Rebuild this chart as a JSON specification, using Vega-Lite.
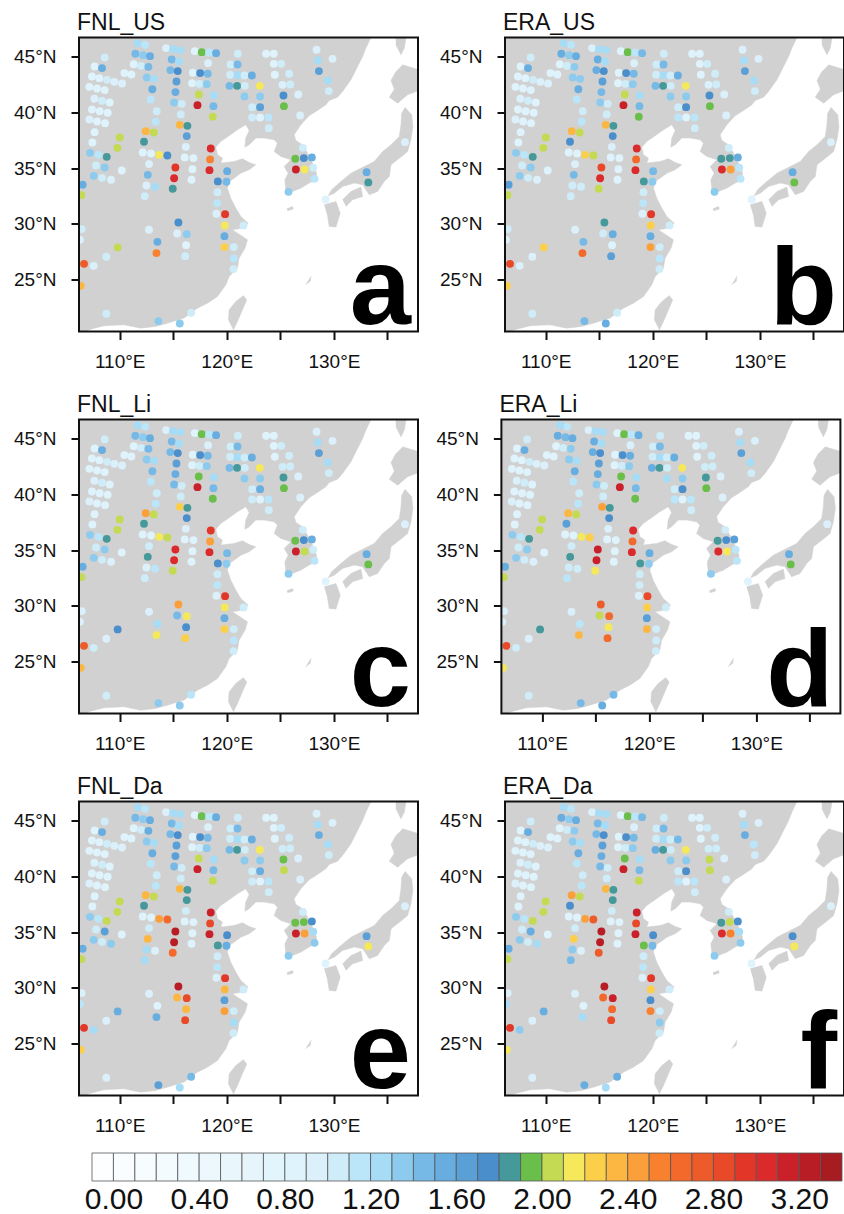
{"$schema":"https://vega.github.io/schema/vega-lite/v6.json","autosize":{"type":"pad"},"padding":{"left":13,"top":11.5,"right":0,"bottom":0},"background":"white","spacing":16.5,
"config":{"font":"Liberation Sans","view":{"stroke":null},"axis":{"grid":false,"domain":false,"title":null,"labelFont":"Liberation Sans","labelFontSize":19,"labelColor":"#111","tickColor":"#111","tickSize":8,"tickWidth":2},"axisX":{"labelPadding":13,"labelAngle":0},"axisY":{"labelPadding":15},"title":{"font":"Liberation Sans","fontSize":23,"fontWeight":"normal","anchor":"start","frame":"group","offset":2,"dx":-2,"color":"#111"}},
"datasets":{
"land":[{"p":1,"i":0,"lon":105,"lat":48},{"p":1,"i":1,"lon":133.8,"lat":48},{"p":1,"i":2,"lon":133.46,"lat":46.7},{"p":1,"i":3,"lon":132.99,"lat":45.75},{"p":1,"i":4,"lon":132.68,"lat":45},{"p":1,"i":5,"lon":132.21,"lat":44.1},{"p":1,"i":6,"lon":131.59,"lat":42.91},{"p":1,"i":7,"lon":130.81,"lat":41.87},{"p":1,"i":8,"lon":130.34,"lat":41.36},{"p":1,"i":9,"lon":129.56,"lat":41.06},{"p":1,"i":10,"lon":129.25,"lat":40.67},{"p":1,"i":11,"lon":128.32,"lat":40.07},{"p":1,"i":12,"lon":127.69,"lat":39.69},{"p":1,"i":13,"lon":126.91,"lat":38.88},{"p":1,"i":14,"lon":126.29,"lat":37.99},{"p":1,"i":15,"lon":126.45,"lat":37.48},{"p":1,"i":16,"lon":127.07,"lat":37.09},{"p":1,"i":17,"lon":127.54,"lat":36.34},{"p":1,"i":18,"lon":128,"lat":35.45},{"p":1,"i":19,"lon":128.38,"lat":34.55},{"p":1,"i":20,"lon":128.32,"lat":33.96},{"p":1,"i":21,"lon":127.69,"lat":33.66},{"p":1,"i":22,"lon":126.91,"lat":33.21},{"p":1,"i":23,"lon":126.13,"lat":32.91},{"p":1,"i":24,"lon":125.51,"lat":33.06},{"p":1,"i":25,"lon":125.42,"lat":33.96},{"p":1,"i":26,"lon":125.73,"lat":34.55},{"p":1,"i":27,"lon":125.36,"lat":35.15},{"p":1,"i":28,"lon":125.98,"lat":35.75},{"p":1,"i":29,"lon":125.05,"lat":36.04},{"p":1,"i":30,"lon":124.42,"lat":36.49},{"p":1,"i":31,"lon":124.73,"lat":37.24},{"p":1,"i":32,"lon":124.42,"lat":37.54},{"p":1,"i":33,"lon":123.49,"lat":37.69},{"p":1,"i":34,"lon":122.71,"lat":37.69},{"p":1,"i":35,"lon":122.09,"lat":37.09},{"p":1,"i":36,"lon":121.68,"lat":36.88},{"p":1,"i":37,"lon":121.77,"lat":37.69},{"p":1,"i":38,"lon":122.09,"lat":38.37},{"p":1,"i":39,"lon":121.77,"lat":38.88},{"p":1,"i":40,"lon":120.99,"lat":38.43},{"p":1,"i":41,"lon":120.22,"lat":37.9},{"p":1,"i":42,"lon":119.44,"lat":37.39},{"p":1,"i":43,"lon":118.97,"lat":36.88},{"p":1,"i":44,"lon":119.13,"lat":36.19},{"p":1,"i":45,"lon":119.59,"lat":35.9},{"p":1,"i":46,"lon":119.44,"lat":35.45},{"p":1,"i":47,"lon":120.68,"lat":35.6},{"p":1,"i":48,"lon":121.46,"lat":35.84},{"p":1,"i":49,"lon":122.09,"lat":35.51},{"p":1,"i":50,"lon":122.71,"lat":35.3},{"p":1,"i":51,"lon":122.09,"lat":34.85},{"p":1,"i":52,"lon":121.31,"lat":34.55},{"p":1,"i":53,"lon":120.68,"lat":34.1},{"p":1,"i":54,"lon":120.22,"lat":33.81},{"p":1,"i":55,"lon":120.06,"lat":33.21},{"p":1,"i":56,"lon":120.37,"lat":32.31},{"p":1,"i":57,"lon":120.84,"lat":31.42},{"p":1,"i":58,"lon":121.31,"lat":30.67},{"p":1,"i":59,"lon":122,"lat":30.07},{"p":1,"i":60,"lon":121.46,"lat":29.63},{"p":1,"i":61,"lon":120.53,"lat":29.48},{"p":1,"i":62,"lon":121,"lat":29.18},{"p":1,"i":63,"lon":121.93,"lat":28.58},{"p":1,"i":64,"lon":121.71,"lat":27.84},{"p":1,"i":65,"lon":121.15,"lat":26.94},{"p":1,"i":66,"lon":120.99,"lat":26.04},{"p":1,"i":67,"lon":120.22,"lat":25.3},{"p":1,"i":68,"lon":119.91,"lat":24.55},{"p":1,"i":69,"lon":119.13,"lat":23.51},{"p":1,"i":70,"lon":118.19,"lat":22.91},{"p":1,"i":71,"lon":117.26,"lat":22.46},{"p":1,"i":72,"lon":116.01,"lat":21.57},{"p":1,"i":73,"lon":114.45,"lat":21.12},{"p":1,"i":74,"lon":113.36,"lat":20.82},{"p":1,"i":75,"lon":111.96,"lat":20.67},{"p":1,"i":76,"lon":110.4,"lat":20.97},{"p":1,"i":77,"lon":108.54,"lat":20.88},{"p":1,"i":78,"lon":107.29,"lat":20.58},{"p":1,"i":79,"lon":106.67,"lat":20.37},{"p":1,"i":80,"lon":106.3,"lat":20},{"p":1,"i":81,"lon":105,"lat":20},
{"p":2,"i":0,"lon":121.56,"lat":23.6},{"p":2,"i":1,"lon":120.84,"lat":23.06},{"p":2,"i":2,"lon":120.22,"lat":22.31},{"p":2,"i":3,"lon":120.15,"lat":21.42},{"p":2,"i":4,"lon":120.62,"lat":20.52},{"p":2,"i":5,"lon":121,"lat":21.27},{"p":2,"i":6,"lon":121.46,"lat":22.31},{"p":2,"i":7,"lon":121.87,"lat":23.21},
{"p":3,"i":0,"lon":136.63,"lat":40.46},{"p":3,"i":1,"lon":137.26,"lat":39.78},{"p":3,"i":2,"lon":137.38,"lat":38.73},{"p":3,"i":3,"lon":137.19,"lat":37.54},{"p":3,"i":4,"lon":136.88,"lat":36.49},{"p":3,"i":5,"lon":136.32,"lat":36.04},{"p":3,"i":6,"lon":135.33,"lat":35.3},{"p":3,"i":7,"lon":135.17,"lat":34.25},{"p":3,"i":8,"lon":134.7,"lat":33.81},{"p":3,"i":9,"lon":134.08,"lat":32.91},{"p":3,"i":10,"lon":133.3,"lat":32.61},{"p":3,"i":11,"lon":132.68,"lat":33.51},{"p":3,"i":12,"lon":131.9,"lat":33.66},{"p":3,"i":13,"lon":130.81,"lat":33.36},{"p":3,"i":14,"lon":130.03,"lat":32.76},{"p":3,"i":15,"lon":129.47,"lat":32.52},{"p":3,"i":16,"lon":129.78,"lat":33.06},{"p":3,"i":17,"lon":130.65,"lat":33.81},{"p":3,"i":18,"lon":131.59,"lat":34.55},{"p":3,"i":19,"lon":132.83,"lat":35.15},{"p":3,"i":20,"lon":133.77,"lat":35.6},{"p":3,"i":21,"lon":134.55,"lat":36.49},{"p":3,"i":22,"lon":135.33,"lat":37.09},{"p":3,"i":23,"lon":136.1,"lat":37.84},{"p":3,"i":24,"lon":136.26,"lat":38.88},{"p":3,"i":25,"lon":136.32,"lat":39.93},
{"p":4,"i":0,"lon":130.81,"lat":32.16},{"p":4,"i":1,"lon":131.59,"lat":32.91},{"p":4,"i":2,"lon":132.52,"lat":33.3},{"p":4,"i":3,"lon":132.68,"lat":32.46},{"p":4,"i":4,"lon":131.74,"lat":32.16},{"p":4,"i":5,"lon":131.12,"lat":31.57},
{"p":5,"i":0,"lon":129.09,"lat":31.72},{"p":5,"i":1,"lon":130.19,"lat":32.01},{"p":5,"i":2,"lon":130.59,"lat":30.97},{"p":5,"i":3,"lon":130.19,"lat":29.72},{"p":5,"i":4,"lon":129.56,"lat":29.78},{"p":5,"i":5,"lon":129.41,"lat":30.67},
{"p":6,"i":0,"lon":136.41,"lat":44.25},{"p":6,"i":1,"lon":138.5,"lat":43.66},{"p":6,"i":2,"lon":138.5,"lat":42.16},{"p":6,"i":3,"lon":136.88,"lat":41.57},{"p":6,"i":4,"lon":135.95,"lat":40.82},{"p":6,"i":5,"lon":135.17,"lat":41.36},{"p":6,"i":6,"lon":135.64,"lat":42.07},{"p":6,"i":7,"lon":135.33,"lat":42.85},{"p":6,"i":8,"lon":135.79,"lat":43.66},
{"p":7,"i":0,"lon":135.73,"lat":47.5},{"p":7,"i":1,"lon":136.88,"lat":47.5},{"p":7,"i":2,"lon":136.57,"lat":45.75},{"p":7,"i":3,"lon":136.26,"lat":45.15},{"p":7,"i":4,"lon":135.79,"lat":46.04},
{"p":8,"i":0,"lon":125.61,"lat":31.36},{"p":8,"i":1,"lon":126.14,"lat":31.57},{"p":8,"i":2,"lon":126.2,"lat":31.33},{"p":8,"i":3,"lon":125.67,"lat":31.18},
{"p":9,"i":0,"lon":127.38,"lat":24.55},{"p":9,"i":1,"lon":127.85,"lat":25.3},{"p":9,"i":2,"lon":127.79,"lat":24.85}],
"st":[
{"lon":111.68,"lat":46.19,"a":1.25,"b":1.25,"c":1.25,"d":1.25,"e":1.25,"f":1.25},
{"lon":112.37,"lat":46.04,"a":1.15,"b":1.15,"c":1.15,"d":1.15,"e":1.15,"f":1.15},
{"lon":111.46,"lat":45.24,"a":1.45,"b":1.55,"c":1.45,"d":1.55,"e":1.45,"f":1.55},
{"lon":112.18,"lat":45.12,"a":1.35,"b":1.35,"c":1.35,"d":1.45,"e":1.35,"f":1.35},
{"lon":112.83,"lat":45.03,"a":1.55,"b":1.55,"c":1.55,"d":1.55,"e":1.55,"f":1.55},
{"lon":114.33,"lat":45.75,"a":0.9,"b":0.9,"c":0.9,"d":0.9,"e":0.9,"f":0.9},
{"lon":114.98,"lat":45.66,"a":1.25,"b":1.25,"c":1.25,"d":1.25,"e":1.25,"f":1.25},
{"lon":115.67,"lat":45.57,"a":1.2,"b":1.2,"c":1.2,"d":1.2,"e":1.2,"f":1.2},
{"lon":117.01,"lat":45.48,"a":0.8,"b":0.8,"c":0.8,"d":0.8,"e":0.8,"f":0.8},
{"lon":117.66,"lat":45.39,"a":1.95,"b":1.95,"c":1.95,"d":1.95,"e":1.95,"f":1.95},
{"lon":118.35,"lat":45.36,"a":1.15,"b":1.15,"c":1.15,"d":1.15,"e":1.15,"f":1.15},
{"lon":119,"lat":45.3,"a":1.55,"b":1.45,"c":1.5,"d":1.55,"e":1.5,"f":1.4},
{"lon":121.03,"lat":45.24,"a":1.05,"b":1.05,"c":1.05,"d":1.05,"e":1.05,"f":1.05},
{"lon":123.67,"lat":45.24,"a":0.8,"b":0.8,"c":0.8,"d":0.8,"e":0.8,"f":0.8},
{"lon":124.39,"lat":45.24,"a":0.8,"b":0.8,"c":0.8,"d":0.8,"e":0.8,"f":0.8},
{"lon":128.38,"lat":45.6,"a":0.9,"b":0.9,"c":0.9,"d":0.9,"e":0.9,"f":0.9},
{"lon":108.6,"lat":44.91,"a":1.05,"b":1.05,"c":1.05,"d":1.05,"e":1.05,"f":1.05},
{"lon":128.5,"lat":44.64,"a":1.25,"b":1.25,"c":1.25,"d":1.25,"e":1.25,"f":1.25},
{"lon":129.87,"lat":44.79,"a":0.9,"b":0.9,"c":0.9,"d":0.9,"e":0.9,"f":0.9},
{"lon":114.86,"lat":44.73,"a":1.45,"b":1.5,"c":1.4,"d":1.5,"e":1.45,"f":1.45},
{"lon":115.54,"lat":44.55,"a":1.25,"b":1.2,"c":1.2,"d":1.2,"e":1.2,"f":1.2},
{"lon":118.25,"lat":44.4,"a":0.9,"b":0.9,"c":0.9,"d":0.9,"e":0.9,"f":0.9},
{"lon":120.34,"lat":44.28,"a":1.05,"b":1.05,"c":1.05,"d":1.05,"e":1.05,"f":1.05},
{"lon":121,"lat":44.28,"a":1.45,"b":1.45,"c":1.45,"d":1.45,"e":1.45,"f":1.45},
{"lon":124.39,"lat":44.34,"a":0.8,"b":0.8,"c":0.8,"d":0.8,"e":0.8,"f":0.8},
{"lon":125.08,"lat":44.34,"a":1,"b":1,"c":1,"d":1,"e":1,"f":1},
{"lon":107.66,"lat":44.1,"a":0.8,"b":0.8,"c":0.8,"d":0.8,"e":0.8,"f":0.8},
{"lon":108.35,"lat":43.96,"a":1.55,"b":1.55,"c":1.55,"d":1.55,"e":1.55,"f":1.55},
{"lon":111.31,"lat":44.31,"a":0.8,"b":0.8,"c":0.8,"d":0.8,"e":0.8,"f":0.8},
{"lon":111.99,"lat":44.16,"a":1,"b":1,"c":1,"d":1,"e":1,"f":1},
{"lon":112.68,"lat":44.07,"a":1.45,"b":1.35,"c":1.45,"d":1.35,"e":1.55,"f":1.35},
{"lon":114.73,"lat":43.78,"a":1.45,"b":1.5,"c":1.45,"d":1.5,"e":1.45,"f":1.45},
{"lon":115.42,"lat":43.69,"a":1.75,"b":1.75,"c":1.75,"d":1.75,"e":1.75,"f":1.7},
{"lon":116.82,"lat":43.54,"a":0.8,"b":0.8,"c":0.8,"d":0.8,"e":0.8,"f":0.8},
{"lon":117.51,"lat":43.51,"a":1.75,"b":1.75,"c":1.75,"d":1.75,"e":1.75,"f":1.75},
{"lon":118.22,"lat":43.45,"a":1.45,"b":1.45,"c":1.45,"d":1.5,"e":1.45,"f":1.45},
{"lon":128.6,"lat":43.69,"a":1.65,"b":1.65,"c":1.65,"d":1.65,"e":1.5,"f":1.5},
{"lon":110.44,"lat":43.51,"a":0.8,"b":0.8,"c":0.8,"d":0.8,"e":0.8,"f":0.8},
{"lon":111.09,"lat":43.39,"a":0.8,"b":0.8,"c":0.8,"d":0.8,"e":0.8,"f":0.8},
{"lon":120.31,"lat":43.36,"a":1.05,"b":1.05,"c":1.05,"d":1.05,"e":1.05,"f":1.05},
{"lon":121,"lat":43.33,"a":1.25,"b":1.25,"c":1.25,"d":1.25,"e":1.25,"f":1.25},
{"lon":121.65,"lat":43.3,"a":1,"b":1,"c":1,"d":1,"e":1,"f":1},
{"lon":122.34,"lat":43.3,"a":1.55,"b":1.5,"c":1.55,"d":1.55,"e":1.55,"f":1.45},
{"lon":124.48,"lat":43.36,"a":0.8,"b":0.8,"c":0.8,"d":0.8,"e":0.8,"f":0.8},
{"lon":125.82,"lat":43.45,"a":1.05,"b":1.05,"c":1.05,"d":1.05,"e":1.05,"f":1.05},
{"lon":107.41,"lat":43.21,"a":0.8,"b":0.8,"c":0.8,"d":0.8,"e":0.8,"f":0.8},
{"lon":108.1,"lat":43.06,"a":0.8,"b":0.8,"c":0.8,"d":0.8,"e":0.8,"f":0.8},
{"lon":108.82,"lat":42.91,"a":1.05,"b":1.05,"c":1.05,"d":1.05,"e":1.05,"f":1.05},
{"lon":109.5,"lat":42.73,"a":0.9,"b":0.9,"c":0.9,"d":0.9,"e":0.9,"f":0.9},
{"lon":110.22,"lat":42.58,"a":0.9,"b":0.9,"c":0.9,"d":0.9,"e":0.9,"f":0.9},
{"lon":112.52,"lat":43.12,"a":1.35,"b":1.35,"c":1.35,"d":1.35,"e":1.35,"f":1.35},
{"lon":113.21,"lat":43,"a":1.25,"b":1.35,"c":1.25,"d":1.25,"e":1.25,"f":1.25},
{"lon":115.3,"lat":42.76,"a":1.65,"b":1.65,"c":1.6,"d":1.65,"e":1.6,"f":1.6},
{"lon":116.76,"lat":42.61,"a":0.8,"b":0.8,"c":0.8,"d":0.8,"e":0.8,"f":0.8},
{"lon":117.44,"lat":42.55,"a":1.05,"b":1.05,"c":1.05,"d":1.05,"e":1.05,"f":1.05},
{"lon":118.13,"lat":42.52,"a":1.35,"b":1.35,"c":1.35,"d":1.35,"e":1.35,"f":1.35},
{"lon":120.25,"lat":42.37,"a":1.45,"b":1.45,"c":1.45,"d":1.55,"e":1.45,"f":1.55},
{"lon":120.96,"lat":42.37,"a":1.85,"b":1.85,"c":1.85,"d":1.85,"e":1.85,"f":1.85},
{"lon":121.68,"lat":42.37,"a":1.05,"b":1.05,"c":1.05,"d":1.05,"e":1.05,"f":1.05},
{"lon":123.08,"lat":42.37,"a":2.15,"b":2.15,"c":2.15,"d":2.15,"e":2.15,"f":2.15},
{"lon":125.2,"lat":42.46,"a":0.9,"b":0.9,"c":1.05,"d":1.05,"e":1.05,"f":1.05},
{"lon":125.92,"lat":42.49,"a":1.05,"b":1.05,"c":1.05,"d":1.05,"e":1.05,"f":1.05},
{"lon":129.44,"lat":42.85,"a":1.25,"b":1.25,"c":1.25,"d":1.25,"e":1.25,"f":1.15},
{"lon":107.17,"lat":42.28,"a":0.8,"b":0.8,"c":0.8,"d":0.8,"e":0.8,"f":0.8},
{"lon":107.88,"lat":42.13,"a":0.8,"b":0.8,"c":0.8,"d":0.8,"e":0.8,"f":0.8},
{"lon":108.6,"lat":41.99,"a":0.8,"b":0.8,"c":0.8,"d":0.8,"e":0.8,"f":0.8},
{"lon":113.05,"lat":42.07,"a":1.55,"b":1.55,"c":1.45,"d":1.55,"e":1.55,"f":1.5},
{"lon":115.2,"lat":41.81,"a":1.55,"b":1.45,"c":1.55,"d":1.55,"e":1.6,"f":1.55},
{"lon":117.38,"lat":41.6,"a":2.05,"b":2.05,"c":1.95,"d":1.95,"e":2.05,"f":1.95},
{"lon":118.78,"lat":41.51,"a":1.25,"b":1.25,"c":1.25,"d":1.25,"e":1.25,"f":1.25},
{"lon":121.65,"lat":41.42,"a":1.35,"b":1.35,"c":1.35,"d":1.25,"e":1.35,"f":1.35},
{"lon":123.11,"lat":41.42,"a":1.35,"b":1.35,"c":1.35,"d":1.35,"e":1.35,"f":1.35},
{"lon":125.29,"lat":41.51,"a":1.75,"b":1.7,"c":1.85,"d":1.85,"e":1.95,"f":2.05},
{"lon":126.67,"lat":41.6,"a":0.9,"b":0.9,"c":0.9,"d":0.9,"e":0.9,"f":0.9},
{"lon":129.53,"lat":41.9,"a":1.05,"b":1.05,"c":1.05,"d":1.05,"e":1.05,"f":1.05},
{"lon":107.63,"lat":41.21,"a":0.9,"b":0.9,"c":0.9,"d":0.9,"e":0.9,"f":0.9},
{"lon":108.35,"lat":41.03,"a":1.05,"b":1.05,"c":1.05,"d":1.05,"e":1.05,"f":1.05},
{"lon":109.07,"lat":40.88,"a":0.8,"b":0.8,"c":0.8,"d":0.8,"e":0.8,"f":0.8},
{"lon":112.9,"lat":41.15,"a":1.15,"b":1.15,"c":1.15,"d":1.15,"e":1.15,"f":1.15},
{"lon":115.08,"lat":40.88,"a":1.35,"b":1.35,"c":1.45,"d":1.35,"e":1.45,"f":1.45},
{"lon":115.79,"lat":40.76,"a":1.05,"b":1.05,"c":1.05,"d":1.05,"e":1.05,"f":1.05},
{"lon":117.26,"lat":40.64,"a":3.15,"b":3.15,"c":3.15,"d":3.15,"e":3.1,"f":3.1},
{"lon":118.75,"lat":40.55,"a":1.45,"b":1.45,"c":1.45,"d":1.45,"e":1.45,"f":1.45},
{"lon":122.37,"lat":40.46,"a":1.05,"b":1.05,"c":1.05,"d":1.05,"e":1.05,"f":1.05},
{"lon":123.11,"lat":40.46,"a":1.65,"b":1.75,"c":1.55,"d":1.7,"e":1.55,"f":1.7},
{"lon":125.33,"lat":40.55,"a":1.95,"b":1.95,"c":1.95,"d":1.95,"e":2.05,"f":2.05},
{"lon":107.41,"lat":40.25,"a":0.8,"b":0.8,"c":0.8,"d":0.8,"e":0.8,"f":0.8},
{"lon":108.13,"lat":40.1,"a":0.8,"b":0.8,"c":0.8,"d":0.8,"e":0.8,"f":0.8},
{"lon":108.88,"lat":39.96,"a":0.8,"b":0.8,"c":0.8,"d":0.8,"e":0.8,"f":0.8},
{"lon":113.46,"lat":40.1,"a":1.05,"b":1.05,"c":1.05,"d":1.05,"e":1.05,"f":1.05},
{"lon":115.7,"lat":39.81,"a":1.05,"b":1.05,"c":1.05,"d":1.05,"e":1.05,"f":1.05},
{"lon":118.69,"lat":39.6,"a":2.05,"b":1.95,"c":1.95,"d":1.95,"e":2.05,"f":2.05},
{"lon":122.37,"lat":39.54,"a":1.05,"b":1.15,"c":1.05,"d":1.15,"e":1.05,"f":1.15},
{"lon":123.11,"lat":39.54,"a":0.8,"b":0.8,"c":0.8,"d":0.8,"e":0.8,"f":0.8},
{"lon":123.89,"lat":39.54,"a":1.15,"b":1.15,"c":1.15,"d":1.15,"e":1.15,"f":1.15},
{"lon":126.85,"lat":39.72,"a":0.9,"b":0.9,"c":0.9,"d":0.9,"e":0.9,"f":0.9},
{"lon":107.17,"lat":39.36,"a":0.9,"b":0.9,"c":0.9,"d":0.9,"e":0.9,"f":0.9},
{"lon":107.88,"lat":39.18,"a":0.8,"b":0.8,"c":0.8,"d":0.8,"e":0.8,"f":0.8},
{"lon":108.63,"lat":39.03,"a":0.8,"b":0.8,"c":0.8,"d":0.8,"e":0.8,"f":0.8},
{"lon":113.36,"lat":39.15,"a":1.15,"b":1.15,"c":1.15,"d":1.15,"e":1.15,"f":1.15},
{"lon":115.61,"lat":38.88,"a":2.35,"b":2.35,"c":2.25,"d":2.4,"e":2.35,"f":2.3},
{"lon":116.32,"lat":38.79,"a":1.85,"b":1.85,"c":1.85,"d":1.85,"e":1.85,"f":1.85},
{"lon":112.43,"lat":38.31,"a":2.35,"b":2.35,"c":2.4,"d":2.35,"e":2.35,"f":2.4},
{"lon":113.18,"lat":38.19,"a":2.05,"b":2.05,"c":2.05,"d":2.05,"e":2.05,"f":2.05},
{"lon":123.92,"lat":38.58,"a":1.05,"b":1.05,"c":1.05,"d":1.05,"e":1.05,"f":1.05},
{"lon":107.66,"lat":38.22,"a":0.8,"b":0.8,"c":0.8,"d":0.8,"e":0.8,"f":0.8},
{"lon":110,"lat":37.75,"a":2.05,"b":2.05,"c":2.05,"d":2.05,"e":2.05,"f":2.05},
{"lon":116.26,"lat":37.87,"a":1.65,"b":1.75,"c":1.7,"d":1.75,"e":1.85,"f":1.85},
{"lon":107.45,"lat":37.3,"a":0.8,"b":0.8,"c":0.8,"d":0.8,"e":0.8,"f":0.8},
{"lon":109.78,"lat":36.82,"a":2.05,"b":2.05,"c":2.05,"d":2.05,"e":2.05,"f":2.05},
{"lon":112.27,"lat":37.36,"a":1.85,"b":1.7,"c":1.85,"d":1.65,"e":1.85,"f":1.75},
{"lon":116.17,"lat":36.91,"a":0.95,"b":0.95,"c":0.95,"d":0.95,"e":1.05,"f":1.05},
{"lon":118.5,"lat":36.76,"a":3.05,"b":3,"c":2.95,"d":3,"e":3.15,"f":3.15},
{"lon":127.1,"lat":36.82,"a":1.05,"b":1.05,"c":1.05,"d":1.05,"e":1.05,"f":1.05},
{"lon":136.63,"lat":37.33,"a":0.9,"b":0.9,"c":0.9,"d":0.9,"e":0.9,"f":0.9},
{"lon":107.23,"lat":36.37,"a":1.35,"b":1.35,"c":1.35,"d":1.35,"e":1.35,"f":1.35},
{"lon":108.01,"lat":36.19,"a":1.15,"b":1.15,"c":1.15,"d":1.15,"e":1.15,"f":1.15},
{"lon":108.79,"lat":36.01,"a":1.85,"b":1.85,"c":1.85,"d":1.85,"e":2.05,"f":2.05},
{"lon":112.15,"lat":36.4,"a":0.8,"b":0.8,"c":0.8,"d":0.8,"e":0.8,"f":0.8},
{"lon":112.93,"lat":36.31,"a":0.85,"b":0.85,"c":0.85,"d":0.85,"e":0.85,"f":0.85},
{"lon":113.68,"lat":36.19,"a":2.15,"b":2.25,"c":2.15,"d":2.15,"e":2.45,"f":2.4},
{"lon":114.45,"lat":36.13,"a":1.75,"b":2.05,"c":2.05,"d":2.25,"e":2.65,"f":2.7},
{"lon":116.07,"lat":35.96,"a":0.85,"b":0.85,"c":0.85,"d":0.85,"e":0.85,"f":0.85},
{"lon":116.88,"lat":35.9,"a":0.85,"b":0.85,"c":0.85,"d":0.85,"e":0.85,"f":0.85},
{"lon":118.44,"lat":35.78,"a":2.55,"b":2.65,"c":2.45,"d":2.6,"e":2.8,"f":2.8},
{"lon":126.39,"lat":35.84,"a":1.95,"b":1.85,"c":1.95,"d":1.85,"e":1.95,"f":1.85},
{"lon":127.19,"lat":35.9,"a":1.75,"b":1.85,"c":1.7,"d":1.7,"e":1.95,"f":2.05},
{"lon":127.94,"lat":35.96,"a":1.55,"b":1.55,"c":1.55,"d":1.65,"e":1.7,"f":1.7},
{"lon":107.79,"lat":35.24,"a":1.05,"b":1.05,"c":1.05,"d":1.05,"e":1.05,"f":1.05},
{"lon":108.6,"lat":35.06,"a":1.35,"b":1.35,"c":1.35,"d":1.35,"e":1.65,"f":1.55},
{"lon":112.74,"lat":35.36,"a":0.95,"b":0.95,"c":1.05,"d":1.05,"e":1.05,"f":1.05},
{"lon":115.2,"lat":35.06,"a":2.95,"b":2.8,"c":3.05,"d":3.15,"e":3.25,"f":3.2},
{"lon":116.79,"lat":34.91,"a":0.85,"b":0.85,"c":0.85,"d":0.85,"e":0.85,"f":0.85},
{"lon":118.38,"lat":34.82,"a":3,"b":3.05,"c":3,"d":3.05,"e":3.1,"f":3.15},
{"lon":120.03,"lat":34.73,"a":1.55,"b":1.45,"c":1.45,"d":1.55,"e":1.7,"f":1.7},
{"lon":126.45,"lat":34.88,"a":3.15,"b":3.05,"c":3.15,"d":3.05,"e":3.1,"f":3},
{"lon":127.26,"lat":34.88,"a":2.15,"b":2.4,"c":2.05,"d":2.15,"e":2.45,"f":2.55},
{"lon":128.07,"lat":35.03,"a":1.05,"b":1.15,"c":1.05,"d":1.15,"e":1.25,"f":1.25},
{"lon":110.19,"lat":34.79,"a":0.8,"b":0.8,"c":0.8,"d":0.8,"e":0.8,"f":0.8},
{"lon":107.57,"lat":34.31,"a":1.35,"b":1.35,"c":1.35,"d":1.35,"e":1.35,"f":1.35},
{"lon":108.35,"lat":34.13,"a":1.05,"b":1.05,"c":1.05,"d":1.05,"e":1.05,"f":1.05},
{"lon":109.19,"lat":33.96,"a":0.95,"b":0.95,"c":0.95,"d":0.95,"e":1.35,"f":1.25},
{"lon":112.62,"lat":34.4,"a":1.45,"b":1.45,"c":1.85,"d":1.85,"e":2.3,"f":2.25},
{"lon":115.08,"lat":34.1,"a":3,"b":3,"c":3,"d":3.1,"e":3.2,"f":3.2},
{"lon":116.7,"lat":33.96,"a":0.8,"b":0.8,"c":0.8,"d":0.8,"e":0.8,"f":0.8},
{"lon":119.16,"lat":33.81,"a":1.75,"b":1.85,"c":1.75,"d":1.85,"e":1.85,"f":1.95},
{"lon":119.97,"lat":33.78,"a":1.45,"b":1.35,"c":1.35,"d":1.35,"e":1.55,"f":1.45},
{"lon":128.19,"lat":34.04,"a":1.15,"b":1.15,"c":1.15,"d":1.15,"e":1.35,"f":1.35},
{"lon":133.05,"lat":34.64,"a":1.55,"b":1.55,"c":1.55,"d":1.55,"e":1.6,"f":1.7},
{"lon":133.21,"lat":33.72,"a":1.85,"b":1.95,"c":1.95,"d":1.95,"e":2.15,"f":2.15},
{"lon":106.54,"lat":33.51,"a":1.55,"b":1.65,"c":1.55,"d":1.55,"e":1.55,"f":1.55},
{"lon":112.49,"lat":33.45,"a":0.95,"b":1.05,"c":0.95,"d":1.05,"e":1.25,"f":1.3},
{"lon":113.3,"lat":33.33,"a":1.25,"b":1.05,"c":1.15,"d":1.05,"e":0.95,"f":0.95},
{"lon":114.95,"lat":33.15,"a":1.85,"b":2.05,"c":2.05,"d":2.15,"e":2.65,"f":2.75},
{"lon":119.13,"lat":32.85,"a":1.05,"b":1.05,"c":1.05,"d":1.05,"e":1.05,"f":1.05},
{"lon":125.76,"lat":32.88,"a":1.35,"b":1.35,"c":1.35,"d":1.35,"e":1.35,"f":1.35},
{"lon":106.42,"lat":32.58,"a":2.05,"b":2.05,"c":2.05,"d":2.05,"e":2.05,"f":2.05},
{"lon":112.34,"lat":32.49,"a":1.05,"b":1.05,"c":1.05,"d":1.15,"e":1.25,"f":1.45},
{"lon":119.1,"lat":31.87,"a":1.15,"b":1.15,"c":1.15,"d":1.05,"e":1.15,"f":1.15},
{"lon":129.22,"lat":32.19,"a":0.8,"b":0.8,"c":0.8,"d":0.8,"e":0.8,"f":0.8},
{"lon":119.03,"lat":30.91,"a":0.9,"b":0.9,"c":0.9,"d":0.9,"e":0.9,"f":0.9},
{"lon":119.84,"lat":30.88,"a":2.95,"b":2.95,"c":2.9,"d":2.85,"e":2.9,"f":2.9},
{"lon":115.48,"lat":30.13,"a":1.75,"b":1.85,"c":2.45,"d":2.7,"e":3.2,"f":3.2},
{"lon":119.81,"lat":29.87,"a":2.15,"b":2.25,"c":2.15,"d":2.25,"e":2.3,"f":2.25},
{"lon":121.56,"lat":29.87,"a":1.05,"b":1.05,"c":1.05,"d":1.05,"e":1.05,"f":1.05},
{"lon":106.45,"lat":29.54,"a":1,"b":1,"c":0.9,"d":0.9,"e":0.9,"f":0.9},
{"lon":112.74,"lat":29.48,"a":0.95,"b":0.95,"c":0.95,"d":0.95,"e":0.95,"f":0.95},
{"lon":115.36,"lat":29.15,"a":0.95,"b":1.05,"c":1.45,"d":2.05,"e":2.35,"f":2.65},
{"lon":116.26,"lat":29.09,"a":1.35,"b":1.55,"c":2.15,"d":2.6,"e":2.8,"f":3.15},
{"lon":106.29,"lat":28.58,"a":0.9,"b":0.9,"c":0.9,"d":0.9,"e":1.15,"f":1.25},
{"lon":119.78,"lat":28.91,"a":1.55,"b":1.55,"c":1.5,"d":1.65,"e":1.65,"f":1.75},
{"lon":113.52,"lat":28.4,"a":1.55,"b":1.45,"c":1.25,"d":1.15,"e":0.85,"f":0.85},
{"lon":116.2,"lat":28.1,"a":0.85,"b":0.85,"c":1.7,"d":2.15,"e":2.35,"f":2.65},
{"lon":109.81,"lat":27.9,"a":2.05,"b":2.2,"c":1.75,"d":1.85,"e":1.55,"f":1.5},
{"lon":119.78,"lat":27.93,"a":2.25,"b":2.4,"c":2.25,"d":2.35,"e":2.4,"f":2.5},
{"lon":120.65,"lat":27.93,"a":1.05,"b":1.05,"c":1.05,"d":1.05,"e":1.05,"f":1.05},
{"lon":113.43,"lat":27.39,"a":2.55,"b":2.6,"c":2.15,"d":2.35,"e":1.5,"f":1.2},
{"lon":116.11,"lat":27.12,"a":1.05,"b":1.65,"c":2.25,"d":2.65,"e":2.8,"f":2.8},
{"lon":108.75,"lat":27.06,"a":1.05,"b":0.9,"c":0.9,"d":0.9,"e":0.9,"f":0.9},
{"lon":120.65,"lat":26.91,"a":1.15,"b":1.15,"c":1.15,"d":1.05,"e":1.25,"f":1.35},
{"lon":106.67,"lat":26.43,"a":2.75,"b":2.85,"c":2.7,"d":2.8,"e":2.9,"f":2.9},
{"lon":107.57,"lat":26.25,"a":0.9,"b":0.9,"c":1.05,"d":1.05,"e":1.25,"f":1.35},
{"lon":120.62,"lat":25.96,"a":1.05,"b":1.05,"c":1.05,"d":1.05,"e":1.05,"f":1.05},
{"lon":106.36,"lat":24.46,"a":2.35,"b":2.25,"c":2.3,"d":2.15,"e":2.25,"f":2.15},
{"lon":108.75,"lat":21.96,"a":1,"b":1,"c":1,"d":1,"e":0.9,"f":0.9},
{"lon":116.67,"lat":22.05,"a":1.05,"b":1.05,"c":1.15,"d":1.45,"e":1.45,"f":1.55},
{"lon":113.61,"lat":21.3,"a":1.35,"b":1.4,"c":1.35,"d":1.4,"e":1.65,"f":1.55},
{"lon":115.61,"lat":21.09,"a":1.35,"b":1.55,"c":1.35,"d":1.55,"e":1.25,"f":1.2}],
"frame":[{"lon":106.2,"lat":20.37,"lon2":137.85,"lat2":46.7}]},
"vconcat":[{"spacing":22,"vconcat":[
{"spacing":20,"hconcat":[
{"title":"FNL_US","width":339,"height":294,"encoding":{"x":{"field":"lon","type":"quantitative","scale":{"domain":[106.2,137.85],"nice":false,"zero":false},"axis":{"values":[110,115,120,125,130,135],"labelExpr":"datum.value % 10 === 0 ? datum.value + '°E' : ''"}},"y":{"field":"lat","type":"quantitative","scale":{"domain":[20.37,46.7],"nice":false,"zero":false},"axis":{"values":[25,30,35,40,45],"labelExpr":"datum.value + '°N'"}}},"layer":[
{"data":{"name":"land"},"mark":{"type":"line","fill":"#d1d1d1","stroke":"#d1d1d1","strokeWidth":0.5,"clip":true},"encoding":{"detail":{"field":"p"},"order":{"field":"i"}}},
{"data":{"name":"st"},"mark":{"type":"circle","size":62,"opacity":1,"clip":true},"encoding":{"color":{"field":"a","type":"quantitative","legend":null,"scale":{"type":"threshold","domain":[0,0.1,0.2,0.3,0.4,0.5,0.6,0.7,0.8,0.9,1,1.1,1.2,1.3,1.4,1.5,1.6,1.7,1.8,1.9,2,2.1,2.2,2.3,2.4,2.5,2.6,2.7,2.8,2.9,3,3.1,3.2,3.3],"range":["#fdfeff","#f9fdff","#f7fcff","#f4fbff","#effaff","#ecf8fe","#e9f7fd","#e6f5fc","#e2f4fc","#dff3fc","#dbf0fa","#cfecf9","#bbe5f8","#a6dcf5","#8dcbee","#76b9e6","#68ade0","#5b9fd7","#4a8ecb","#46999b","#6abf4b","#c4da53","#f5e85a","#fbcf4a","#fbb741","#fa9f3a","#f88130","#f3692b","#ee5b2a","#e84a29","#e23728","#da2a2c","#c9202a","#b81c24","#a61c20"]}}}},
{"data":{"values":[{"lon":137.2,"lat":21,"t":"a"}]},"mark":{"type":"text","font":"Liberation Sans","fontWeight":"bold","fontSize":110,"align":"right","baseline":"alphabetic","color":"black"},"encoding":{"text":{"field":"t"}}},
{"data":{"name":"frame"},"mark":{"type":"rect","fillOpacity":0,"stroke":"#111","strokeWidth":2},"encoding":{"x2":{"field":"lon2"},"y2":{"field":"lat2"}}}]},
{"title":"ERA_US","width":339,"height":294,"encoding":{"x":{"field":"lon","type":"quantitative","scale":{"domain":[106.2,137.85],"nice":false,"zero":false},"axis":{"values":[110,115,120,125,130,135],"labelExpr":"datum.value % 10 === 0 ? datum.value + '°E' : ''"}},"y":{"field":"lat","type":"quantitative","scale":{"domain":[20.37,46.7],"nice":false,"zero":false},"axis":{"values":[25,30,35,40,45],"labelExpr":"datum.value + '°N'"}}},"layer":[
{"data":{"name":"land"},"mark":{"type":"line","fill":"#d1d1d1","stroke":"#d1d1d1","strokeWidth":0.5,"clip":true},"encoding":{"detail":{"field":"p"},"order":{"field":"i"}}},
{"data":{"name":"st"},"mark":{"type":"circle","size":62,"opacity":1,"clip":true},"encoding":{"color":{"field":"b","type":"quantitative","legend":null,"scale":{"type":"threshold","domain":[0,0.1,0.2,0.3,0.4,0.5,0.6,0.7,0.8,0.9,1,1.1,1.2,1.3,1.4,1.5,1.6,1.7,1.8,1.9,2,2.1,2.2,2.3,2.4,2.5,2.6,2.7,2.8,2.9,3,3.1,3.2,3.3],"range":["#fdfeff","#f9fdff","#f7fcff","#f4fbff","#effaff","#ecf8fe","#e9f7fd","#e6f5fc","#e2f4fc","#dff3fc","#dbf0fa","#cfecf9","#bbe5f8","#a6dcf5","#8dcbee","#76b9e6","#68ade0","#5b9fd7","#4a8ecb","#46999b","#6abf4b","#c4da53","#f5e85a","#fbcf4a","#fbb741","#fa9f3a","#f88130","#f3692b","#ee5b2a","#e84a29","#e23728","#da2a2c","#c9202a","#b81c24","#a61c20"]}}}},
{"data":{"values":[{"lon":137.2,"lat":21,"t":"b"}]},"mark":{"type":"text","font":"Liberation Sans","fontWeight":"bold","fontSize":110,"align":"right","baseline":"alphabetic","color":"black"},"encoding":{"text":{"field":"t"}}},
{"data":{"name":"frame"},"mark":{"type":"rect","fillOpacity":0,"stroke":"#111","strokeWidth":2},"encoding":{"x2":{"field":"lon2"},"y2":{"field":"lat2"}}}]}]},
{"spacing":16.4,"hconcat":[
{"title":"FNL_Li","width":339,"height":294,"encoding":{"x":{"field":"lon","type":"quantitative","scale":{"domain":[106.2,137.85],"nice":false,"zero":false},"axis":{"values":[110,115,120,125,130,135],"labelExpr":"datum.value % 10 === 0 ? datum.value + '°E' : ''"}},"y":{"field":"lat","type":"quantitative","scale":{"domain":[20.37,46.7],"nice":false,"zero":false},"axis":{"values":[25,30,35,40,45],"labelExpr":"datum.value + '°N'"}}},"layer":[
{"data":{"name":"land"},"mark":{"type":"line","fill":"#d1d1d1","stroke":"#d1d1d1","strokeWidth":0.5,"clip":true},"encoding":{"detail":{"field":"p"},"order":{"field":"i"}}},
{"data":{"name":"st"},"mark":{"type":"circle","size":62,"opacity":1,"clip":true},"encoding":{"color":{"field":"c","type":"quantitative","legend":null,"scale":{"type":"threshold","domain":[0,0.1,0.2,0.3,0.4,0.5,0.6,0.7,0.8,0.9,1,1.1,1.2,1.3,1.4,1.5,1.6,1.7,1.8,1.9,2,2.1,2.2,2.3,2.4,2.5,2.6,2.7,2.8,2.9,3,3.1,3.2,3.3],"range":["#fdfeff","#f9fdff","#f7fcff","#f4fbff","#effaff","#ecf8fe","#e9f7fd","#e6f5fc","#e2f4fc","#dff3fc","#dbf0fa","#cfecf9","#bbe5f8","#a6dcf5","#8dcbee","#76b9e6","#68ade0","#5b9fd7","#4a8ecb","#46999b","#6abf4b","#c4da53","#f5e85a","#fbcf4a","#fbb741","#fa9f3a","#f88130","#f3692b","#ee5b2a","#e84a29","#e23728","#da2a2c","#c9202a","#b81c24","#a61c20"]}}}},
{"data":{"values":[{"lon":137.2,"lat":21,"t":"c"}]},"mark":{"type":"text","font":"Liberation Sans","fontWeight":"bold","fontSize":110,"align":"right","baseline":"alphabetic","color":"black"},"encoding":{"text":{"field":"t"}}},
{"data":{"name":"frame"},"mark":{"type":"rect","fillOpacity":0,"stroke":"#111","strokeWidth":2},"encoding":{"x2":{"field":"lon2"},"y2":{"field":"lat2"}}}]},
{"title":"ERA_Li","width":339,"height":294,"encoding":{"x":{"field":"lon","type":"quantitative","scale":{"domain":[106.2,137.85],"nice":false,"zero":false},"axis":{"values":[110,115,120,125,130,135],"labelExpr":"datum.value % 10 === 0 ? datum.value + '°E' : ''"}},"y":{"field":"lat","type":"quantitative","scale":{"domain":[20.37,46.7],"nice":false,"zero":false},"axis":{"values":[25,30,35,40,45],"labelExpr":"datum.value + '°N'"}}},"layer":[
{"data":{"name":"land"},"mark":{"type":"line","fill":"#d1d1d1","stroke":"#d1d1d1","strokeWidth":0.5,"clip":true},"encoding":{"detail":{"field":"p"},"order":{"field":"i"}}},
{"data":{"name":"st"},"mark":{"type":"circle","size":62,"opacity":1,"clip":true},"encoding":{"color":{"field":"d","type":"quantitative","legend":null,"scale":{"type":"threshold","domain":[0,0.1,0.2,0.3,0.4,0.5,0.6,0.7,0.8,0.9,1,1.1,1.2,1.3,1.4,1.5,1.6,1.7,1.8,1.9,2,2.1,2.2,2.3,2.4,2.5,2.6,2.7,2.8,2.9,3,3.1,3.2,3.3],"range":["#fdfeff","#f9fdff","#f7fcff","#f4fbff","#effaff","#ecf8fe","#e9f7fd","#e6f5fc","#e2f4fc","#dff3fc","#dbf0fa","#cfecf9","#bbe5f8","#a6dcf5","#8dcbee","#76b9e6","#68ade0","#5b9fd7","#4a8ecb","#46999b","#6abf4b","#c4da53","#f5e85a","#fbcf4a","#fbb741","#fa9f3a","#f88130","#f3692b","#ee5b2a","#e84a29","#e23728","#da2a2c","#c9202a","#b81c24","#a61c20"]}}}},
{"data":{"values":[{"lon":137.2,"lat":21,"t":"d"}]},"mark":{"type":"text","font":"Liberation Sans","fontWeight":"bold","fontSize":110,"align":"right","baseline":"alphabetic","color":"black"},"encoding":{"text":{"field":"t"}}},
{"data":{"name":"frame"},"mark":{"type":"rect","fillOpacity":0,"stroke":"#111","strokeWidth":2},"encoding":{"x2":{"field":"lon2"},"y2":{"field":"lat2"}}}]}]},
{"spacing":20,"hconcat":[
{"title":"FNL_Da","width":339,"height":294,"encoding":{"x":{"field":"lon","type":"quantitative","scale":{"domain":[106.2,137.85],"nice":false,"zero":false},"axis":{"values":[110,115,120,125,130,135],"labelExpr":"datum.value % 10 === 0 ? datum.value + '°E' : ''"}},"y":{"field":"lat","type":"quantitative","scale":{"domain":[20.37,46.7],"nice":false,"zero":false},"axis":{"values":[25,30,35,40,45],"labelExpr":"datum.value + '°N'"}}},"layer":[
{"data":{"name":"land"},"mark":{"type":"line","fill":"#d1d1d1","stroke":"#d1d1d1","strokeWidth":0.5,"clip":true},"encoding":{"detail":{"field":"p"},"order":{"field":"i"}}},
{"data":{"name":"st"},"mark":{"type":"circle","size":62,"opacity":1,"clip":true},"encoding":{"color":{"field":"e","type":"quantitative","legend":null,"scale":{"type":"threshold","domain":[0,0.1,0.2,0.3,0.4,0.5,0.6,0.7,0.8,0.9,1,1.1,1.2,1.3,1.4,1.5,1.6,1.7,1.8,1.9,2,2.1,2.2,2.3,2.4,2.5,2.6,2.7,2.8,2.9,3,3.1,3.2,3.3],"range":["#fdfeff","#f9fdff","#f7fcff","#f4fbff","#effaff","#ecf8fe","#e9f7fd","#e6f5fc","#e2f4fc","#dff3fc","#dbf0fa","#cfecf9","#bbe5f8","#a6dcf5","#8dcbee","#76b9e6","#68ade0","#5b9fd7","#4a8ecb","#46999b","#6abf4b","#c4da53","#f5e85a","#fbcf4a","#fbb741","#fa9f3a","#f88130","#f3692b","#ee5b2a","#e84a29","#e23728","#da2a2c","#c9202a","#b81c24","#a61c20"]}}}},
{"data":{"values":[{"lon":137.2,"lat":21,"t":"e"}]},"mark":{"type":"text","font":"Liberation Sans","fontWeight":"bold","fontSize":110,"align":"right","baseline":"alphabetic","color":"black"},"encoding":{"text":{"field":"t"}}},
{"data":{"name":"frame"},"mark":{"type":"rect","fillOpacity":0,"stroke":"#111","strokeWidth":2},"encoding":{"x2":{"field":"lon2"},"y2":{"field":"lat2"}}}]},
{"title":"ERA_Da","width":339,"height":294,"encoding":{"x":{"field":"lon","type":"quantitative","scale":{"domain":[106.2,137.85],"nice":false,"zero":false},"axis":{"values":[110,115,120,125,130,135],"labelExpr":"datum.value % 10 === 0 ? datum.value + '°E' : ''"}},"y":{"field":"lat","type":"quantitative","scale":{"domain":[20.37,46.7],"nice":false,"zero":false},"axis":{"values":[25,30,35,40,45],"labelExpr":"datum.value + '°N'"}}},"layer":[
{"data":{"name":"land"},"mark":{"type":"line","fill":"#d1d1d1","stroke":"#d1d1d1","strokeWidth":0.5,"clip":true},"encoding":{"detail":{"field":"p"},"order":{"field":"i"}}},
{"data":{"name":"st"},"mark":{"type":"circle","size":62,"opacity":1,"clip":true},"encoding":{"color":{"field":"f","type":"quantitative","legend":null,"scale":{"type":"threshold","domain":[0,0.1,0.2,0.3,0.4,0.5,0.6,0.7,0.8,0.9,1,1.1,1.2,1.3,1.4,1.5,1.6,1.7,1.8,1.9,2,2.1,2.2,2.3,2.4,2.5,2.6,2.7,2.8,2.9,3,3.1,3.2,3.3],"range":["#fdfeff","#f9fdff","#f7fcff","#f4fbff","#effaff","#ecf8fe","#e9f7fd","#e6f5fc","#e2f4fc","#dff3fc","#dbf0fa","#cfecf9","#bbe5f8","#a6dcf5","#8dcbee","#76b9e6","#68ade0","#5b9fd7","#4a8ecb","#46999b","#6abf4b","#c4da53","#f5e85a","#fbcf4a","#fbb741","#fa9f3a","#f88130","#f3692b","#ee5b2a","#e84a29","#e23728","#da2a2c","#c9202a","#b81c24","#a61c20"]}}}},
{"data":{"values":[{"lon":137.2,"lat":21,"t":"f"}]},"mark":{"type":"text","font":"Liberation Sans","fontWeight":"bold","fontSize":110,"align":"right","baseline":"alphabetic","color":"black"},"encoding":{"text":{"field":"t"}}},
{"data":{"name":"frame"},"mark":{"type":"rect","fillOpacity":0,"stroke":"#111","strokeWidth":2},"encoding":{"x2":{"field":"lon2"},"y2":{"field":"lat2"}}}]}]}]},
{"width":763,"height":28,"data":{"values":[{"lo":-0.1,"hi":0,"v":-0.05},{"lo":0,"hi":0.1,"v":0.05},{"lo":0.1,"hi":0.2,"v":0.15},{"lo":0.2,"hi":0.3,"v":0.25},{"lo":0.3,"hi":0.4,"v":0.35},{"lo":0.4,"hi":0.5,"v":0.45},{"lo":0.5,"hi":0.6,"v":0.55},{"lo":0.6,"hi":0.7,"v":0.65},{"lo":0.7,"hi":0.8,"v":0.75},{"lo":0.8,"hi":0.9,"v":0.85},{"lo":0.9,"hi":1,"v":0.95},{"lo":1,"hi":1.1,"v":1.05},{"lo":1.1,"hi":1.2,"v":1.15},{"lo":1.2,"hi":1.3,"v":1.25},{"lo":1.3,"hi":1.4,"v":1.35},{"lo":1.4,"hi":1.5,"v":1.45},{"lo":1.5,"hi":1.6,"v":1.55},{"lo":1.6,"hi":1.7,"v":1.65},{"lo":1.7,"hi":1.8,"v":1.75},{"lo":1.8,"hi":1.9,"v":1.85},{"lo":1.9,"hi":2,"v":1.95},{"lo":2,"hi":2.1,"v":2.05},{"lo":2.1,"hi":2.2,"v":2.15},{"lo":2.2,"hi":2.3,"v":2.25},{"lo":2.3,"hi":2.4,"v":2.35},{"lo":2.4,"hi":2.5,"v":2.45},{"lo":2.5,"hi":2.6,"v":2.55},{"lo":2.6,"hi":2.7,"v":2.65},{"lo":2.7,"hi":2.8,"v":2.75},{"lo":2.8,"hi":2.9,"v":2.85},{"lo":2.9,"hi":3,"v":2.95},{"lo":3,"hi":3.1,"v":3.05},{"lo":3.1,"hi":3.2,"v":3.15},{"lo":3.2,"hi":3.3,"v":3.25},{"lo":3.3,"hi":3.4,"v":3.35}]},"mark":{"type":"rect","stroke":"#555","strokeWidth":0.8},"encoding":{"x":{"field":"lo","type":"quantitative","scale":{"domain":[-0.16066,3.4],"nice":false,"zero":false},"axis":{"values":[0,0.4,0.8,1.2,1.6,2,2.4,2.8,3.2],"format":".2f","ticks":false,"labelFontSize":30,"labelPadding":3,"labelColor":"#111"}},"x2":{"field":"hi"},"color":{"field":"v","type":"quantitative","legend":null,"scale":{"type":"threshold","domain":[0,0.1,0.2,0.3,0.4,0.5,0.6,0.7,0.8,0.9,1,1.1,1.2,1.3,1.4,1.5,1.6,1.7,1.8,1.9,2,2.1,2.2,2.3,2.4,2.5,2.6,2.7,2.8,2.9,3,3.1,3.2,3.3],"range":["#fdfeff","#f9fdff","#f7fcff","#f4fbff","#effaff","#ecf8fe","#e9f7fd","#e6f5fc","#e2f4fc","#dff3fc","#dbf0fa","#cfecf9","#bbe5f8","#a6dcf5","#8dcbee","#76b9e6","#68ade0","#5b9fd7","#4a8ecb","#46999b","#6abf4b","#c4da53","#f5e85a","#fbcf4a","#fbb741","#fa9f3a","#f88130","#f3692b","#ee5b2a","#e84a29","#e23728","#da2a2c","#c9202a","#b81c24","#a61c20"]}}}}]}
